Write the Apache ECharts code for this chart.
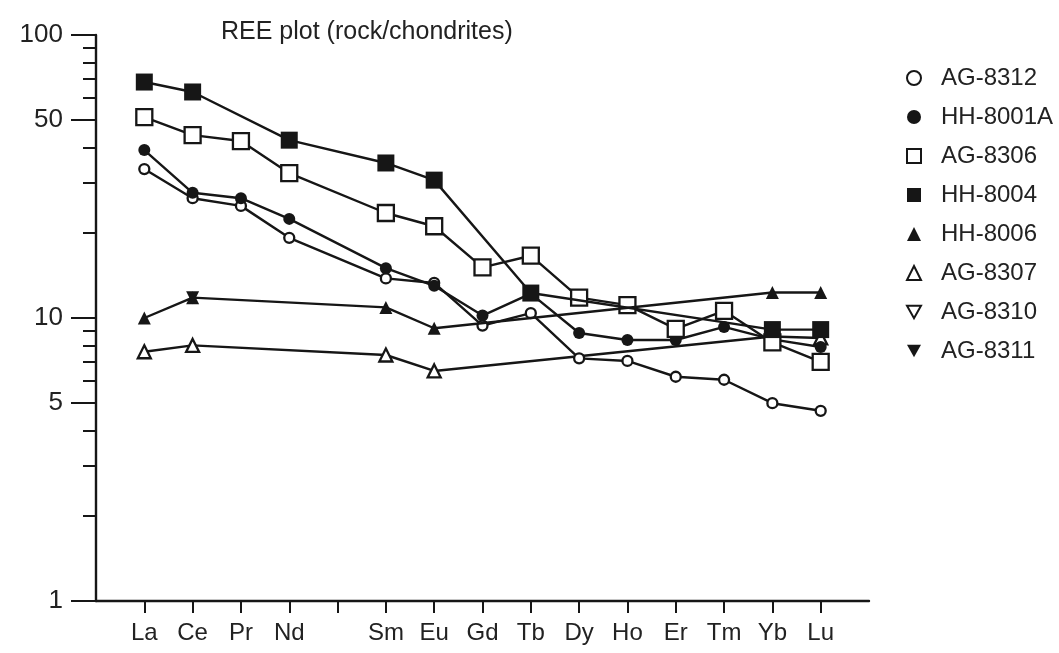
<!DOCTYPE html>
<html>
<head>
<meta charset="utf-8">
<script src="https://cdn.jsdelivr.net/npm/echarts@6/dist/echarts.min.js"></script>
<style>html,body{margin:0;padding:0;background:#fff}#c{width:1059px;height:653px}</style>
</head>
<body>
<div id="c"></div>
<script>
// Element labels along x (position 1..15; Pm slot left blank)
var elements = ['La','Ce','Pr','Nd','','Sm','Eu','Gd','Tb','Dy','Ho','Er','Tm','Yb','Lu'];
var yMajorTicks = [1, 5, 10, 50, 100];
var yMinorTicks = [2, 3, 4, 6, 7, 8, 9, 20, 30, 40, 60, 70, 80, 90];

// Rock / chondrite values (null = not plotted)
var AG8312  = [33.6, 26.5, 24.9, 19.2, null, 13.8, 13.3, 9.4, 10.4, 7.2, 7.05, 6.2, 6.05, 5.0, 4.7];
var HH8001A = [39.2, 27.7, 26.5, 22.4, null, 15.0, 13.0, 10.2, 12.2, 8.85, 8.36, 8.36, 9.3, 8.4, 7.9];
var AG8306  = [51.3, 44.3, 42.2, 32.5, null, 23.5, 21.1, 15.1, 16.6, 11.8, 11.1, 9.15, 10.6, 8.2, 7.0];
var HH8004  = [68.2, 62.9, null, 42.5, null, 35.3, 30.7, null, 12.25, null, null, null, null, 9.1, 9.1];
var HH8006  = [10.0, 11.8, null, null, null, 10.9, 9.2, null, null, null, null, null, null, 12.3, 12.3];
var AG8307  = [7.6, 8.0, null, null, null, 7.4, 6.5, null, null, null, null, null, null, 8.6, 8.5];
var AG8310  = [null, null, null, null, null, null, null, null, null, null, null, null, null, null, null];
var AG8311  = [null, 11.8, null, null, null, null, null, null, null, null, null, null, null, null, null];

function pairs(arr) {
  var out = [];
  arr.forEach(function (v, i) { if (v != null) out.push([i + 1, v]); });
  return out;
}
var positions = elements.map(function (e, i) { return i + 1; });
var INK = '#161616';
var downTri = 'path://M0,0 L10,0 L5,9 Z';

function mk(name, arr, symbol, size, filled, z) {
  return {
    name: name, type: 'line', data: pairs(arr), xAxisIndex: 0, yAxisIndex: 0,
    symbol: symbol, symbolSize: size, z: z || 2,
    lineStyle: { color: INK, width: 2.4 },
    itemStyle: { color: filled ? INK : '#ffffff', borderColor: INK, borderWidth: filled ? 0 : 2.3 },
    emphasis: { disabled: true }, animation: false
  };
}

var series = [
  mk('AG-8312', AG8312, 'circle', 10, false, 2),
  mk('HH-8001A', HH8001A, 'circle', 12, true, 3),
  mk('AG-8306', AG8306, 'rect', 16, false, 3),
  mk('HH-8004', HH8004, 'rect', 17, true, 5),
  mk('HH-8006', HH8006, 'triangle', 13, true, 4),
  mk('AG-8307', AG8307, 'triangle', 13, false, 1),
  mk('AG-8310', AG8310, downTri, 12, false, 3),
  mk('AG-8311', AG8311, downTri, 13, true, 4)
];

var legendData = [
  { name: 'AG-8312', icon: 'circle', itemStyle: { color: '#fff', borderColor: INK, borderWidth: 2 } },
  { name: 'HH-8001A', icon: 'circle', itemStyle: { color: INK, borderWidth: 0 } },
  { name: 'AG-8306', icon: 'rect', itemStyle: { color: '#fff', borderColor: INK, borderWidth: 2 } },
  { name: 'HH-8004', icon: 'rect', itemStyle: { color: INK, borderWidth: 0 } },
  { name: 'HH-8006', icon: 'triangle', itemStyle: { color: INK, borderWidth: 0 } },
  { name: 'AG-8307', icon: 'triangle', itemStyle: { color: '#fff', borderColor: INK, borderWidth: 2 } },
  { name: 'AG-8310', icon: downTri, itemStyle: { color: '#fff', borderColor: INK, borderWidth: 2 } },
  { name: 'AG-8311', icon: downTri, itemStyle: { color: INK, borderWidth: 0 } }
];

var FONT = 'Liberation Sans, Arial, Helvetica, sans-serif';
var chart = echarts.init(document.getElementById('c'), null, { renderer: 'canvas' });
chart.setOption({
  animation: false,
  backgroundColor: '#ffffff',
  textStyle: { fontFamily: FONT },
  title: {
    text: 'REE plot (rock/chondrites)', left: 216, top: 15,
    textStyle: { fontFamily: FONT, fontSize: 25, fontWeight: 'normal', color: '#222' }
  },
  legend: {
    orient: 'vertical', left: 901, top: 60, itemWidth: 14, itemHeight: 14, itemGap: 13,
    symbolKeepAspect: true, selectedMode: false, data: legendData,
    textStyle: { fontFamily: FONT, fontSize: 24, color: '#222', lineHeight: 26, padding: [0, 0, 0, 15] }
  },
  grid: { left: 96, right: 190, top: 35, bottom: 52, containLabel: false },
  xAxis: {
    type: 'value', min: 0, max: 16, interval: 1,
    axisLine: { show: true, onZero: false, lineStyle: { color: INK, width: 2.4 } },
    axisTick: { show: true, inside: false, length: 12, customValues: positions, lineStyle: { color: INK, width: 2 } },
    axisLabel: {
      customValues: positions, margin: 20, fontFamily: FONT, fontSize: 24, color: '#222',
      formatter: function (v) { return elements[Math.round(v) - 1] || ''; }
    },
    splitLine: { show: false }
  },
  yAxis: [
    {
      type: 'log', logBase: 10, min: 1, max: 100,
      axisLine: { show: true, onZero: false, lineStyle: { color: INK, width: 2.4 } },
      axisTick: { show: true, length: 25, customValues: yMajorTicks, lineStyle: { color: INK, width: 2 } },
      axisLabel: { customValues: yMajorTicks, margin: 33, fontFamily: FONT, fontSize: 26, color: '#222',
        formatter: function (v) { return String(v); } },
      splitLine: { show: false }
    },
    {
      type: 'log', logBase: 10, min: 1, max: 100, position: 'left',
      axisLine: { show: false },
      axisTick: { show: true, length: 13, customValues: yMinorTicks, lineStyle: { color: INK, width: 2 } },
      axisLabel: { show: false },
      splitLine: { show: false }
    }
  ],
  series: series
});
</script>
</body>
</html>
